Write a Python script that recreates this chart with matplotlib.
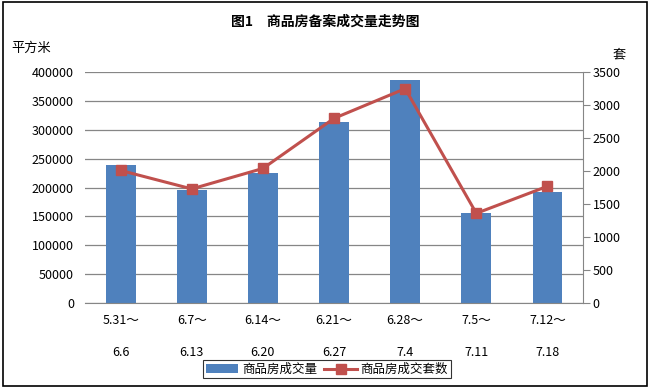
import matplotlib
matplotlib.use("Agg")
import matplotlib.pyplot as plt
from matplotlib.patches import Rectangle

plt.rcParams['font.family'] = ['Noto Sans CJK SC', 'DejaVu Sans']

categories = ["5.31～\n\n6.6", "6.7～\n\n6.13", "6.14～\n\n6.20", "6.21～\n\n6.27",
              "6.28～\n\n7.4", "7.5～\n\n7.11", "7.12～\n\n7.18"]
area_values = [240000, 195000, 226000, 314000, 386000, 156000, 192000]
unit_values = [2010, 1730, 2040, 2800, 3250, 1360, 1770]
left_ticks = [0, 50000, 100000, 150000, 200000, 250000, 300000, 350000, 400000]
right_ticks = [0, 500, 1000, 1500, 2000, 2500, 3000, 3500]

bar_color = "#4F81BD"
line_color = "#C0504D"
grid_color = "#868686"

fig = plt.figure(figsize=(6.5, 3.88), dpi=100)
fig.patches.append(Rectangle((0.004, 0.006), 0.992, 0.988, transform=fig.transFigure,
                             fill=False, edgecolor="black", linewidth=1.2))

ax = fig.add_axes([0.1308, 0.219, 0.7662, 0.595])
x = list(range(len(categories)))
ax.bar(x, area_values, width=0.42, color=bar_color, zorder=2, label="商品房成交量")
ax.set_xlim(-0.5, len(categories) - 0.5)
ax.set_ylim(0, 400000)
ax.set_yticks(left_ticks)
ax.set_yticklabels([str(v) for v in left_ticks], fontsize=9)
ax.yaxis.grid(True, color=grid_color, linewidth=0.9, zorder=0)
ax.set_axisbelow(True)
ax.tick_params(axis='y', length=0, pad=8)
ax.set_xticks(x)
ax.set_xticklabels(categories, fontsize=9, linespacing=1.3)
ax.tick_params(axis='x', length=0, pad=8)
for s in ["top", "left", "right"]:
    ax.spines[s].set_visible(False)
ax.spines["bottom"].set_color(grid_color)

ax2 = ax.twinx()
ax2.plot(x, unit_values, color=line_color, linewidth=2.2, marker="s", markersize=7,
         zorder=3, label="商品房成交套数")
ax2.set_ylim(0, 3500)
ax2.set_yticks(right_ticks)
ax2.set_yticklabels([str(v) for v in right_ticks], fontsize=9)
ax2.tick_params(axis='y', length=5, color=grid_color, pad=2)
for s in ["top", "left", "bottom"]:
    ax2.spines[s].set_visible(False)
ax2.spines["right"].set_color(grid_color)

fig.text(0.5, 0.943, "图1　商品房备案成交量走势图", ha="center", va="center",
         fontsize=10, fontweight="bold")
fig.text(0.018, 0.875, "平方米", ha="left", va="center", fontsize=9.5)
fig.text(0.942, 0.858, "套", ha="left", va="center", fontsize=9.5)

h1, l1 = ax.get_legend_handles_labels()
h2, l2 = ax2.get_legend_handles_labels()
leg = fig.legend(h1 + h2, l1 + l2, loc="center", bbox_to_anchor=(0.503, 0.048),
                 ncol=2, fontsize=9, frameon=True, fancybox=False, edgecolor="black",
                 handlelength=2.6, handletextpad=0.3, columnspacing=0.6,
                 borderpad=0.2, borderaxespad=0)
leg.get_frame().set_linewidth(0.8)

fig.savefig("out.png", dpi=100)
